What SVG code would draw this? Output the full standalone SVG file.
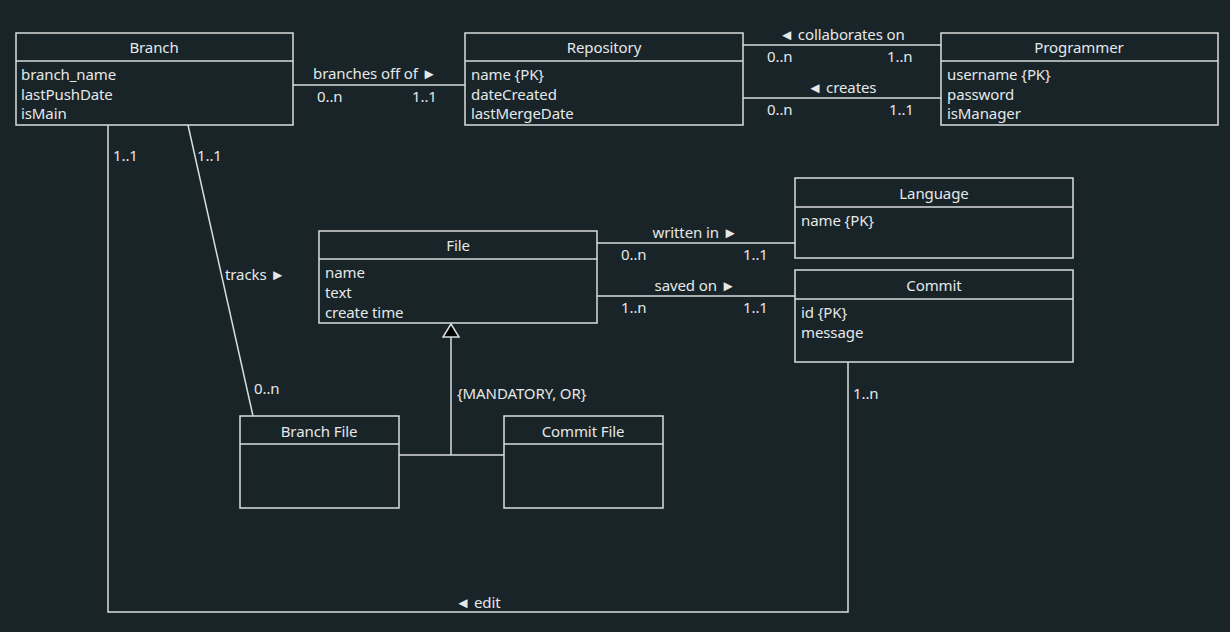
<svg xmlns="http://www.w3.org/2000/svg" width="1230" height="632" viewBox="0 0 1230 632">
<style>
.bg{fill:#182428}
.box{fill:#182428;stroke:#d9dcdc;stroke-width:1.5}
.ln{fill:none;stroke:#d9dcdc;stroke-width:1.5}
text{font-family:"Noto Sans","Open Sans",sans-serif;font-size:15px;fill:#e6e8e8;letter-spacing:-0.1px}
.t{text-anchor:middle}
</style>
<rect class="bg" x="0" y="0" width="1230" height="632"/>
<g id="connectors">
<line class="ln" x1="293" y1="85" x2="465" y2="85"/>
<line class="ln" x1="743" y1="45" x2="941" y2="45"/>
<line class="ln" x1="743" y1="98" x2="941" y2="98"/>
<line class="ln" x1="597" y1="243" x2="795" y2="243"/>
<line class="ln" x1="597" y1="296" x2="795" y2="296"/>
<line class="ln" x1="188" y1="125" x2="253" y2="416"/>
<polyline class="ln" points="108,125 108,612 848,612 848,362"/>
<polyline class="ln" points="451,337 451,455"/>
<line class="ln" x1="399" y1="455" x2="504" y2="455"/>
<polygon points="451,324 443,337 459,337" fill="#000" stroke="#d9dcdc" stroke-width="1.5"/>
<text x="313" y="79">branches off of ►</text>
<text x="317" y="102">0..n</text>
<text x="412" y="102">1..1</text>
<text class="t" x="842" y="40">◄ collaborates on</text>
<text x="767" y="62">0..n</text>
<text x="887" y="62">1..n</text>
<text class="t" x="842" y="93">◄ creates</text>
<text x="767" y="115">0..n</text>
<text x="889" y="115">1..1</text>
<text class="t" x="695" y="238">written in ►</text>
<text x="621" y="260">0..n</text>
<text x="743" y="260">1..1</text>
<text class="t" x="695" y="291">saved on ►</text>
<text x="621" y="313">1..n</text>
<text x="743" y="313">1..1</text>
<text x="225" y="280">tracks ►</text>
<text x="197" y="161">1..1</text>
<text x="254" y="394">0..n</text>
<text x="113" y="161">1..1</text>
<text x="853" y="399">1..n</text>
<text class="t" x="478" y="608">◄ edit</text>
<text x="457" y="399">{MANDATORY, OR}</text>
</g>
<g id="branch">
<rect class="box" x="16" y="33" width="277" height="92"/>
<line class="ln" x1="16" y1="61" x2="293" y2="61"/>
<text class="t" x="154" y="53">Branch</text>
<text x="21" y="80">branch_name</text>
<text x="21" y="100">lastPushDate</text>
<text x="21" y="119">isMain</text>
</g>
<g id="repository">
<rect class="box" x="465" y="33" width="278" height="92"/>
<line class="ln" x1="465" y1="61" x2="743" y2="61"/>
<text class="t" x="604" y="53">Repository</text>
<text x="471" y="80">name {PK}</text>
<text x="471" y="100">dateCreated</text>
<text x="471" y="119">lastMergeDate</text>
</g>
<g id="programmer">
<rect class="box" x="941" y="33" width="277" height="92"/>
<line class="ln" x1="941" y1="61" x2="1218" y2="61"/>
<text class="t" x="1079" y="53">Programmer</text>
<text x="947" y="80">username {PK}</text>
<text x="947" y="100">password</text>
<text x="947" y="119">isManager</text>
</g>
<g id="language">
<rect class="box" x="795" y="178" width="278" height="80"/>
<line class="ln" x1="795" y1="207" x2="1073" y2="207"/>
<text class="t" x="934" y="199">Language</text>
<text x="801" y="226">name {PK}</text>
</g>
<g id="commit">
<rect class="box" x="795" y="270" width="278" height="92"/>
<line class="ln" x1="795" y1="299" x2="1073" y2="299"/>
<text class="t" x="934" y="291">Commit</text>
<text x="801" y="318">id {PK}</text>
<text x="801" y="338">message</text>
</g>
<g id="file">
<rect class="box" x="319" y="231" width="278" height="92"/>
<line class="ln" x1="319" y1="259" x2="597" y2="259"/>
<text class="t" x="458" y="251">File</text>
<text x="325" y="278">name</text>
<text x="325" y="298">text</text>
<text x="325" y="318">create time</text>
</g>
<g id="branch-file">
<rect class="box" x="240" y="416" width="159" height="92"/>
<line class="ln" x1="240" y1="444" x2="399" y2="444"/>
<text class="t" x="319" y="437">Branch File</text>
</g>
<g id="commit-file">
<rect class="box" x="504" y="416" width="159" height="92"/>
<line class="ln" x1="504" y1="444" x2="663" y2="444"/>
<text class="t" x="583" y="437">Commit File</text>
</g>
</svg>
